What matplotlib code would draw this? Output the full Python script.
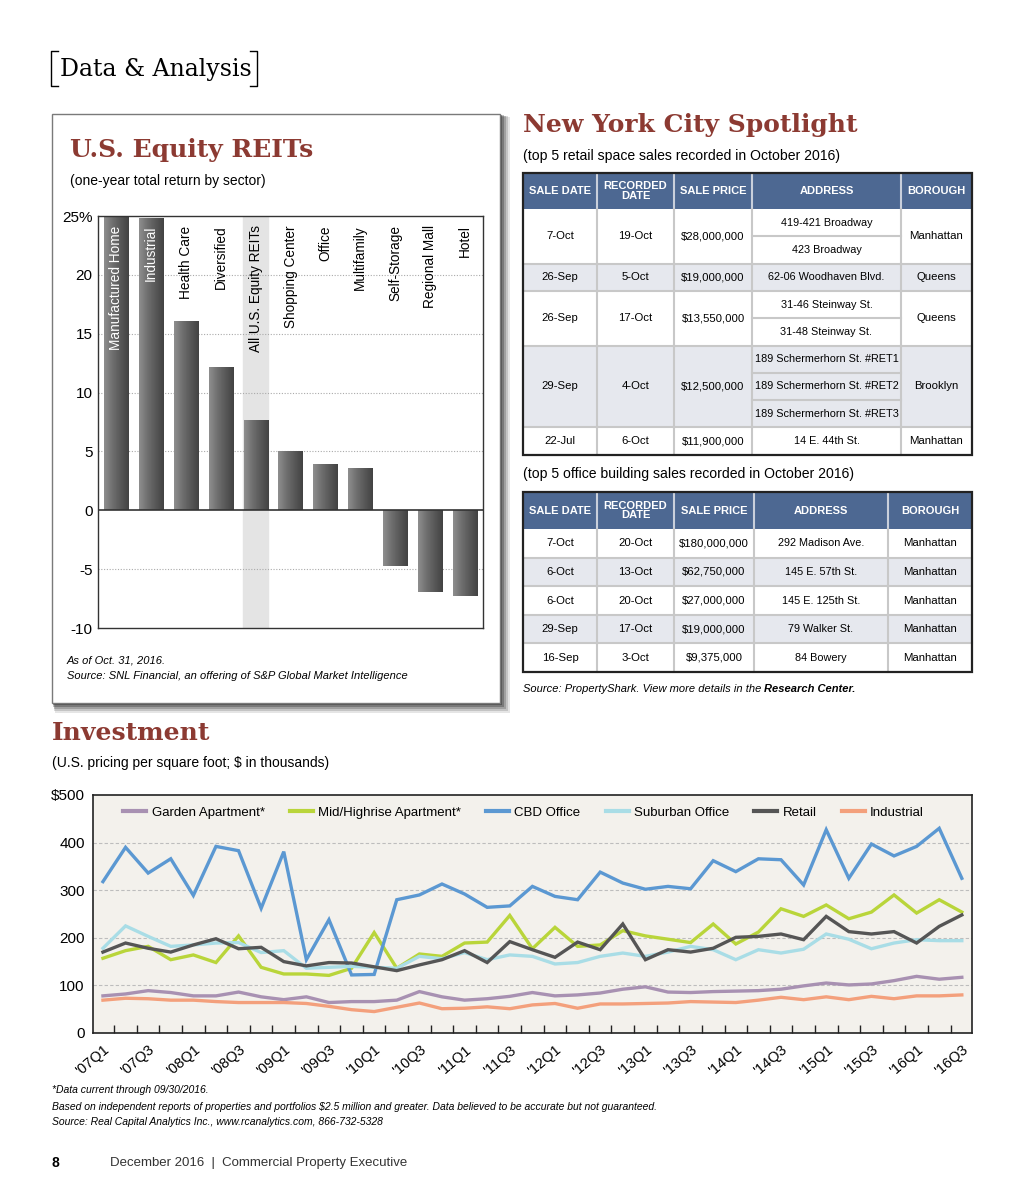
import matplotlib
matplotlib.use("Agg")
import matplotlib.pyplot as plt
import matplotlib.font_manager as fm
from matplotlib.patches import Rectangle
from matplotlib.colors import LinearSegmentedColormap
import numpy as np

W, H = 1024, 1195

names = {f.name for f in fm.fontManager.ttflist}
NARROW = "Liberation Sans Narrow" if "Liberation Sans Narrow" in names else "Liberation Sans"
SANS = "Liberation Sans"
SERIF = "DejaVu Serif"
RED = "#8c3a32"

# ---- REIT data
sectors = ["Manufactured Home", "Industrial", "Health Care", "Diversified",
           "All U.S. Equity REITs", "Shopping Center", "Office", "Multifamily",
           "Self-Storage", "Regional Mall", "Hotel"]
returns = [24.9, 24.8, 16.1, 12.2, 7.65, 5.05, 3.95, 3.6, -4.75, -6.95, -7.3]

# ---- NYC tables
table_cols = ["SALE DATE", "RECORDED\nDATE", "SALE PRICE", "ADDRESS", "BOROUGH"]
retail_sale = ["7-Oct", "26-Sep", "26-Sep", "29-Sep", "22-Jul"]
retail_rec = ["19-Oct", "5-Oct", "17-Oct", "4-Oct", "6-Oct"]
retail_price = ["$28,000,000", "$19,000,000", "$13,550,000", "$12,500,000", "$11,900,000"]
retail_addr = [["419-421 Broadway", "423 Broadway"],
               ["62-06 Woodhaven Blvd."],
               ["31-46 Steinway St.", "31-48 Steinway St."],
               ["189 Schermerhorn St. #RET1", "189 Schermerhorn St. #RET2",
                "189 Schermerhorn St. #RET3"],
               ["14 E. 44th St."]]
retail_boro = ["Manhattan", "Queens", "Queens", "Brooklyn", "Manhattan"]

office_sale = ["7-Oct", "6-Oct", "6-Oct", "29-Sep", "16-Sep"]
office_rec = ["20-Oct", "13-Oct", "20-Oct", "17-Oct", "3-Oct"]
office_price = ["$180,000,000", "$62,750,000", "$27,000,000", "$19,000,000", "$9,375,000"]
office_addr = [["292 Madison Ave."], ["145 E. 57th St."], ["145 E. 125th St."],
               ["79 Walker St."], ["84 Bowery"]]
office_boro = ["Manhattan"] * 5

# ---- Investment data ($ thousands per sq ft)
quarters = [f"'{y:02d}Q{q}" for y in range(7, 17) for q in range(1, 5)][:39]
garden = [78, 82, 89, 85, 78, 78, 86, 76, 70, 76, 64, 66, 66, 69, 87, 76, 69, 72, 77, 85,
          78, 80, 84, 92, 97, 86, 85, 87, 88, 89, 92, 99, 105, 101, 103, 110, 119, 113, 117]
midhigh = [157, 173, 182, 154, 164, 148, 204, 138, 124, 124, 121, 136, 211, 136, 166, 161,
           189, 191, 247, 177, 222, 182, 185, 215, 204, 197, 190, 229, 187, 212, 261, 245,
           269, 240, 254, 290, 252, 280, 254]
cbd = [318, 390, 336, 366, 289, 392, 383, 262, 381, 154, 238, 122, 123, 280, 290, 313, 292,
       264, 267, 308, 287, 280, 338, 315, 302, 308, 303, 362, 339, 366, 364, 311, 427, 325,
       397, 372, 392, 430, 325]
suburban = [178, 225, 203, 182, 185, 189, 190, 169, 173, 136, 138, 140, 138, 136, 161, 156,
            169, 154, 164, 161, 145, 148, 161, 168, 161, 170, 182, 175, 154, 175, 168, 176,
            208, 197, 177, 189, 196, 194, 194]
retail = [170, 189, 178, 170, 185, 198, 177, 180, 150, 141, 148, 147, 139, 131, 143, 154,
          173, 148, 192, 175, 159, 191, 175, 229, 154, 175, 170, 178, 201, 203, 208, 196,
          245, 213, 208, 213, 189, 224, 248]
industrial = [69, 73, 72, 69, 69, 66, 64, 64, 64, 62, 56, 49, 45, 54, 63, 51, 52, 55, 51, 59,
              62, 52, 61, 61, 62, 63, 66, 65, 64, 69, 75, 70, 76, 70, 77, 72, 78, 78, 80]
series = [("Garden Apartment*", garden, "#a891b2"),
          ("Mid/Highrise Apartment*", midhigh, "#b9d53a"),
          ("CBD Office", cbd, "#5b98d2"),
          ("Suburban Office", suburban, "#a9dde6"),
          ("Retail", retail, "#555555"),
          ("Industrial", industrial, "#f3a07c")]


def box(x0, y0, x1, y1):
    """pixel box (top-left origin) -> figure rect"""
    return [x0 / W, 1 - y1 / H, (x1 - x0) / W, (y1 - y0) / H]


fig = plt.figure(figsize=(W / 100, H / 100), dpi=100)
fig.patch.set_facecolor("white")

# page overlay in pixel coordinates
pg = fig.add_axes([0, 0, 1, 1], zorder=0)
pg.set_xlim(0, W)
pg.set_ylim(H, 0)
pg.axis("off")

# header
pg.text(60, 69, "Data & Analysis", family=SERIF, fontsize=17, va="center", ha="left")
pg.plot([58, 51, 51, 58], [51, 51, 86, 86], color="black", lw=1)
pg.plot([250, 257, 257, 250], [51, 51, 86, 86], color="black", lw=1)

# REIT panel frame with shadow
for k, a in enumerate([0.10, 0.14, 0.18, 0.24, 0.30]):
    d = 10 - 2 * k
    pg.add_patch(Rectangle((52 + d * 0.3, 114 + d * 0.3), 448 + d * 0.7, 589 + d * 0.7,
                           facecolor="#000000", alpha=a, edgecolor="none", zorder=1))
pg.add_patch(Rectangle((52, 114), 448, 589, facecolor="white", edgecolor="#7a7a7a",
                       lw=1, zorder=2))
pg.text(70, 150, "U.S. Equity REITs", family=SERIF, fontweight="bold", fontsize=18,
        color=RED, va="center", zorder=3)
pg.text(70, 181, "(one-year total return by sector)", family=SANS, fontsize=10,
        va="center", zorder=3)
pg.text(67, 660, "As of Oct. 31, 2016.", family=SANS, fontsize=8, style="italic",
        va="center", zorder=3)
pg.text(67, 676, "Source: SNL Financial, an offering of S&P Global Market Intelligence",
        family=SANS, fontsize=8, style="italic", va="center", zorder=3)

# NYC Spotlight texts
pg.text(523, 125, "New York City Spotlight", family=SERIF, fontweight="bold", fontsize=18,
        color=RED, va="center")
pg.text(523, 156, "(top 5 retail space sales recorded in October 2016)", family=SANS,
        fontsize=10.1, va="center")
pg.text(523, 474, "(top 5 office building sales recorded in October 2016)", family=SANS,
        fontsize=10.1, va="center")
t1 = pg.text(523, 689, "Source: PropertyShark. View more details in the ", family=SANS,
             fontsize=8, style="italic", va="center")
pg.annotate("Research Center.", xy=(1, 0.5), xycoords=t1, va="center", ha="left",
            family=SANS, fontsize=8, style="italic", fontweight="bold")

# Investment texts
pg.text(52, 733, "Investment", family=SERIF, fontweight="bold", fontsize=18, color=RED,
        va="center")
pg.text(52, 763, "(U.S. pricing per square foot; $ in thousands)", family=SANS, fontsize=10,
        va="center")
pg.text(52, 1090, "*Data current through 09/30/2016.", family=SANS, fontsize=7.5,
        style="italic", va="center")
pg.text(52, 1107, "Based on independent reports of properties and portfolios $2.5 million and "
        "greater. Data believed to be accurate but not guaranteed.", family=SANS,
        fontsize=7.5, style="italic", va="center")
pg.text(52, 1122, "Source: Real Capital Analytics Inc., www.rcanalytics.com, 866-732-5328",
        family=SANS, fontsize=7.5, style="italic", va="center")
pg.text(52, 1163, "8", family=SANS, fontsize=10, fontweight="bold", va="center")
pg.text(110, 1163, "December 2016  |  Commercial Property Executive", family=SANS,
        fontsize=9.5, va="center", color="#333333")


def draw_table(x_edges, y_top, head_h, row_h, sale, rec, price, addr, boro):
    hdr = "#4d6892"
    pg.add_patch(Rectangle((x_edges[0], y_top), x_edges[-1] - x_edges[0], head_h,
                           facecolor=hdr, edgecolor="none"))
    for j, c in enumerate(table_cols):
        xc = (x_edges[j] + x_edges[j + 1]) / 2
        pg.text(xc, y_top + head_h / 2, c, family=NARROW, fontweight="bold", fontsize=8,
                color="white", ha="center", va="center", linespacing=0.95)
        if j > 0:
            pg.plot([x_edges[j]] * 2, [y_top, y_top + head_h], color="#c9cfdb", lw=1.5)
    y = y_top + head_h
    for g in range(len(sale)):
        n = len(addr[g])
        gh = n * row_h
        fc = "#e6e8ee" if g % 2 else "white"
        pg.add_patch(Rectangle((x_edges[0], y), x_edges[-1] - x_edges[0], gh,
                               facecolor=fc, edgecolor="none"))
        vals = [sale[g], rec[g], price[g], None, boro[g]]
        for j, v in enumerate(vals):
            xc = (x_edges[j] + x_edges[j + 1]) / 2
            if v is not None:
                pg.text(xc, y + gh / 2, v, family=NARROW, fontsize=8.2, ha="center",
                        va="center")
            else:
                for k, a in enumerate(addr[g]):
                    pg.text(xc, y + (k + 0.5) * row_h, a, family=NARROW, fontsize=7.8,
                            ha="center", va="center")
                    if k > 0:
                        pg.plot([x_edges[3], x_edges[4]], [y + k * row_h] * 2,
                                color="#c8c8c8", lw=1.5)
        for j in range(1, 5):
            pg.plot([x_edges[j]] * 2, [y, y + gh], color="#c8c8c8", lw=1.5)
        y += gh
        if g < len(sale) - 1:
            pg.plot([x_edges[0], x_edges[-1]], [y, y], color="#c8c8c8", lw=1.5)
    pg.add_patch(Rectangle((x_edges[0], y_top), x_edges[-1] - x_edges[0], y - y_top,
                           facecolor="none", edgecolor="#222222", lw=1.6, zorder=5))


draw_table([523, 597, 674, 752, 901, 972], 173, 36, 27.3,
           retail_sale, retail_rec, retail_price, retail_addr, retail_boro)
draw_table([523, 597, 674, 754, 888, 972], 492, 37, 28.6,
           office_sale, office_rec, office_price, office_addr, office_boro)

# ---- REIT bar chart
ax = fig.add_axes(box(98, 216, 483, 628), zorder=3)
x = np.arange(len(sectors))
ax.axvspan(4 - 0.36, 4 + 0.36, color="#e4e4e4", zorder=0)
bars = ax.bar(x, returns, width=0.69, color="#6a6a6a", zorder=2)
grad = LinearSegmentedColormap.from_list("g", ["#8e8e8e", "#707070", "#585858", "#434343"])
gimg = np.linspace(0, 1, 64).reshape(1, -1)
for b in bars:
    x0, y0 = b.get_x(), b.get_y()
    im = ax.imshow(gimg, cmap=grad, aspect="auto", zorder=2.5,
                   extent=(x0, x0 + b.get_width(), y0, y0 + b.get_height()))
    im.set_clip_path(b)
ax.set_xlim(-0.52, 10.52)
ax.set_ylim(-10, 25)
ax.axhline(0, color="#333333", lw=1.2, zorder=3)
for v in [-5, 5, 10, 15, 20]:
    ax.axhline(v, color="#aaaaaa", lw=0.8, ls=(0, (1, 1.5)), zorder=1)
ax.set_yticks([-10, -5, 0, 5, 10, 15, 20, 25])
ax.set_yticklabels(["-10", "-5", "0", "5", "10", "15", "20", "25%"])
ax.tick_params(axis="y", length=0, pad=4, labelsize=11)
for lab in ax.get_yticklabels():
    lab.set_family(NARROW)
ax.set_xticks([])
for s in ax.spines.values():
    s.set_color("#333333")
    s.set_linewidth(1)
for i, name in enumerate(sectors):
    ax.text(i, 24.2, name, rotation=90, ha="center", va="top", family=NARROW,
            fontsize=9.8, color="white" if i < 2 else "black", zorder=4)

# ---- Investment line chart
lx = fig.add_axes(box(93, 795, 972, 1033), zorder=3)
lx.set_facecolor("#f3f1ec")
xi = np.arange(len(quarters))
for name, vals, col in series:
    lx.plot(xi, vals, color=col, lw=2.4, label=name, solid_joinstyle="miter")
lx.set_xlim(-0.44, 38.45)
lx.set_ylim(0, 500)
lx.set_yticks([0, 100, 200, 300, 400, 500])
lx.set_yticklabels(["0", "100", "200", "300", "400", "$500"])
for v in [100, 200, 300, 400]:
    lx.axhline(v, color="#bdbdbd", lw=0.8, ls=(0, (3, 2)), zorder=0)
lx.tick_params(axis="y", length=0, pad=6, labelsize=11)
lx.set_xticks(xi[:-1] + 0.5, minor=True)
lx.tick_params(axis="x", which="minor", direction="in", length=6, color="#222222", width=1)
lx.set_xticks(xi[::2])
lx.set_xticklabels(quarters[::2], rotation=40, ha="right", rotation_mode="anchor",
                   fontsize=10.5)
lx.tick_params(axis="x", which="major", length=0, pad=7)
for s in lx.spines.values():
    s.set_color("#222222")
    s.set_linewidth(1.2)
for lab in lx.get_yticklabels() + lx.get_xticklabels():
    lab.set_family(SANS)
leg = lx.legend(loc="upper center", bbox_to_anchor=(0.49, 1.0), ncol=6, frameon=False,
                handlelength=1.75, columnspacing=1.9, handletextpad=0.4,
                prop={"family": NARROW, "size": 9.5})
for h in leg.get_lines():
    h.set_linewidth(3)

fig.savefig("out.png", dpi=100, facecolor="white")
